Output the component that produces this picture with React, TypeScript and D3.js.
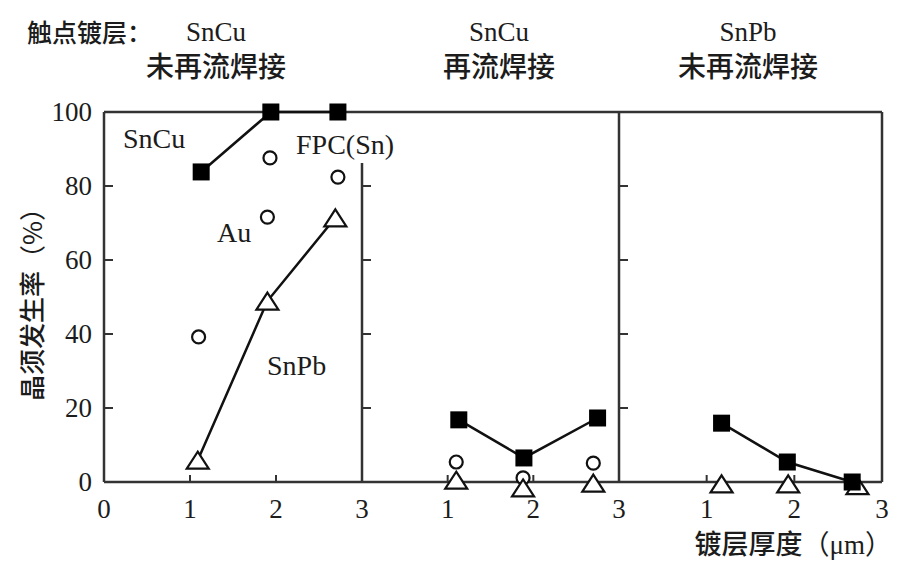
import { useMemo } from 'react';
import * as d3 from 'd3';

// 镀层厚度 (μm) vs 晶须发生率 (%) — three panels
const panelTop = ['SnCu', 'SnCu', 'SnPb'];
const panelBottom = ['未再流焊接', '再流焊接', '未再流焊接'];

// panel 1: SnCu 未再流焊接
const p1SquareX = [1.13, 1.94, 2.72];
const p1SquareY = [83.8, 100, 100];
const p1CircleX = [1.10, 1.93, 1.90, 2.72];
const p1CircleY = [39.2, 87.6, 71.6, 82.4];
const p1TriX = [1.09, 1.90, 2.69];
const p1TriY = [5.9, 48.9, 71.4];

// panel 2: SnCu 再流焊接
const p2SquareX = [1.13, 1.89, 2.75];
const p2SquareY = [16.8, 6.5, 17.3];
const p2CircleX = [1.10, 1.88, 2.70];
const p2CircleY = [5.4, 1.1, 5.1];
const p2TriX = [1.10, 1.88, 2.70];
const p2TriY = [0.5, -1.6, -0.3];

// panel 3: SnPb 未再流焊接
const p3SquareX = [1.17, 1.92, 2.66];
const p3SquareY = [15.9, 5.4, 0];
const p3TriX = [1.17, 1.93, 2.72];
const p3TriY = [-0.5, -0.5, -1];

const yTicks = [0, 20, 40, 60, 80, 100];
const xTicksFirst = [0, 1, 2, 3];
const xTicksRest = [1, 2, 3];

const W = 900;
const H = 585;
const TOP = 112;
const BOTTOM = 482;
const EDGES = [104, 362, 619, 882];
const HEADER_X = [216, 499, 748];

const SERIF = "'Liberation Serif', 'DejaVu Serif', serif";
const CJK = "'Noto Sans CJK SC', 'Noto Sans CJK JP', sans-serif";
const INK = '#1c1c1c';
const AXIS = '#333';

type Pt = { x: number; y: number };
const zip = (xs: number[], ys: number[]): Pt[] => xs.map((x, i) => ({ x, y: ys[i] }));

const panels = [
  { squares: zip(p1SquareX, p1SquareY), circles: zip(p1CircleX, p1CircleY), tris: zip(p1TriX, p1TriY), triLine: true },
  { squares: zip(p2SquareX, p2SquareY), circles: zip(p2CircleX, p2CircleY), tris: zip(p2TriX, p2TriY), triLine: false },
  { squares: zip(p3SquareX, p3SquareY), circles: [] as Pt[], tris: zip(p3TriX, p3TriY), triLine: false },
];

export default function App() {
  const y = useMemo(() => d3.scaleLinear().domain([0, 100]).range([BOTTOM, TOP]), []);
  const xs = useMemo(
    () => [0, 1, 2].map((i) => d3.scaleLinear().domain([0, 3]).range([EDGES[i], EDGES[i + 1]])),
    [],
  );

  const sq = 17;
  const triW = 22;
  const triH = 17;
  const triPath = (cx: number, cy: number) =>
    `M${cx},${cy - triH / 2}L${cx + triW / 2},${cy + triH / 2}L${cx - triW / 2},${cy + triH / 2}Z`;

  return (
    <svg
      width={W}
      height={H}
      viewBox={`0 0 ${W} ${H}`}
      style={{ position: 'absolute', top: 0, left: 0, background: '#fff' }}
    >
      <rect width={W} height={H} fill="#fff" />

      {/* headers */}
      <text x={27} y={42} fontFamily={CJK} fontSize={25} fontWeight={500} fill={INK}>
        触点镀层：
      </text>
      {HEADER_X.map((hx, i) => (
        <g key={`h${i}`}>
          <text x={hx} y={41} textAnchor="middle" fontFamily={SERIF} fontSize={27} fill={INK}>
            {panelTop[i]}
          </text>
          <text x={hx} y={77} textAnchor="middle" fontFamily={CJK} fontSize={28} fontWeight={500} fill={INK}>
            {panelBottom[i]}
          </text>
        </g>
      ))}

      {/* frame */}
      <line x1={EDGES[0]} x2={EDGES[3]} y1={TOP} y2={TOP} stroke={AXIS} strokeWidth={2.5} />
      <line x1={EDGES[0]} x2={EDGES[3]} y1={BOTTOM} y2={BOTTOM} stroke={AXIS} strokeWidth={2.5} />
      <line x1={EDGES[0]} x2={EDGES[0]} y1={TOP} y2={BOTTOM} stroke={AXIS} strokeWidth={2.5} />
      <line x1={EDGES[1]} x2={EDGES[1]} y1={163} y2={BOTTOM} stroke={AXIS} strokeWidth={2.5} />
      <line x1={EDGES[2]} x2={EDGES[2]} y1={TOP} y2={BOTTOM} stroke={AXIS} strokeWidth={2.5} />
      <line x1={EDGES[3]} x2={EDGES[3]} y1={TOP} y2={BOTTOM} stroke={AXIS} strokeWidth={2.5} />

      {/* y ticks: inward on left axis and on the panel dividers */}
      {[0, 1, 2].map((e) =>
        yTicks
          .filter((t) => t > 0 && t < 100)
          .map((t) => (
            <line
              key={`yt${e}-${t}`}
              x1={EDGES[e]}
              x2={EDGES[e] + 9}
              y1={y(t)}
              y2={y(t)}
              stroke={AXIS}
              strokeWidth={2}
            />
          )),
      )}
      {yTicks.map((t) => (
        <text
          key={`yl${t}`}
          x={92}
          y={y(t)}
          dy="0.35em"
          textAnchor="end"
          fontFamily={SERIF}
          fontSize={27}
          fill={INK}
        >
          {t}
        </text>
      ))}

      {/* x ticks */}
      {xs.map((sx, i) =>
        [1, 2].map((t) => (
          <line key={`xt${i}-${t}`} x1={sx(t)} x2={sx(t)} y1={BOTTOM} y2={BOTTOM - 7} stroke={AXIS} strokeWidth={2} />
        )),
      )}
      {xs.map((sx, i) =>
        (i === 0 ? xTicksFirst : xTicksRest).map((t) => (
          <text
            key={`xl${i}-${t}`}
            x={sx(t)}
            y={518}
            textAnchor="middle"
            fontFamily={SERIF}
            fontSize={27}
            fill={INK}
          >
            {t}
          </text>
        )),
      )}

      {/* axis titles */}
      <text
        transform={`translate(42,298) rotate(-90)`}
        textAnchor="middle"
        fontFamily={CJK}
        fontSize={26}
        fontWeight={500}
        fill={INK}
      >
        晶须发生率<tspan fontWeight={400}>（%）</tspan>
      </text>
      <text x={892} y={554} textAnchor="end" fontFamily={CJK} fontSize={27} fontWeight={500} fill={INK}>
        镀层厚度<tspan fontWeight={400}>（</tspan>
        <tspan fontFamily={SERIF} fontWeight={400}>μm</tspan>
        <tspan fontWeight={400}>）</tspan>
      </text>

      {/* series */}
      {panels.map((p, i) => {
        const sx = xs[i];
        const line = d3
          .line<Pt>()
          .x((d) => sx(d.x))
          .y((d) => y(d.y));
        return (
          <g key={`p${i}`}>
            <path d={line(p.squares) ?? ''} fill="none" stroke="#111" strokeWidth={2.5} />
            {p.triLine && <path d={line(p.tris) ?? ''} fill="none" stroke="#111" strokeWidth={2.5} />}
            {p.circles.map((d, j) => (
              <circle key={`c${j}`} cx={sx(d.x)} cy={y(d.y)} r={6.5} fill="#fff" stroke="#111" strokeWidth={2.2} />
            ))}
            {p.tris.map((d, j) => (
              <path key={`t${j}`} d={triPath(sx(d.x), y(d.y))} fill="#fff" stroke="#111" strokeWidth={2.2} strokeLinejoin="miter" />
            ))}
            {p.squares.map((d, j) => (
              <rect key={`s${j}`} x={sx(d.x) - sq / 2} y={y(d.y) - sq / 2} width={sq} height={sq} fill="#000" />
            ))}
          </g>
        );
      })}

      {/* series labels in first panel */}
      <text x={123} y={148} fontFamily={SERIF} fontSize={28} fill={INK}>SnCu</text>
      <text x={296} y={154} fontFamily={SERIF} fontSize={28} fill={INK}>FPC(Sn)</text>
      <text x={217} y={242} fontFamily={SERIF} fontSize={28} fill={INK}>Au</text>
      <text x={267} y={375} fontFamily={SERIF} fontSize={28} fill={INK}>SnPb</text>
    </svg>
  );
}
